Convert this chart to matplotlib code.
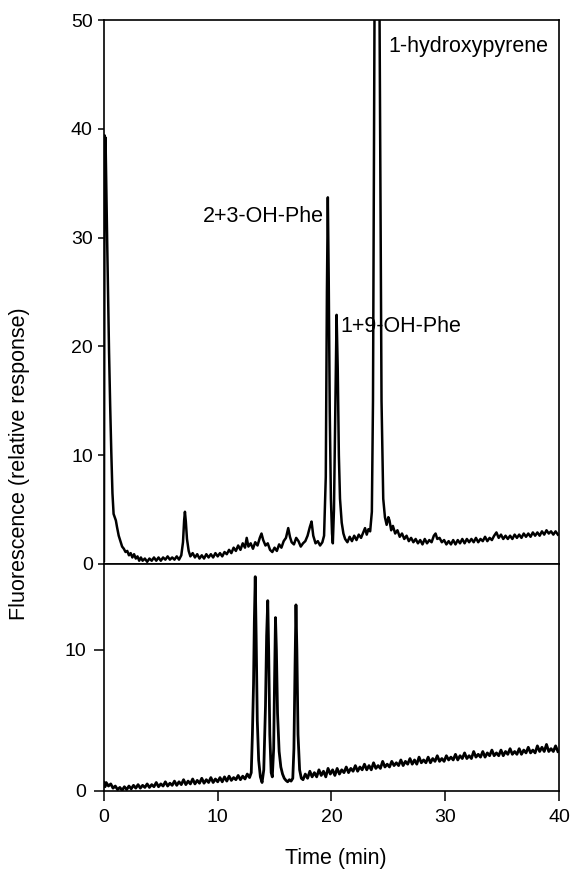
import matplotlib
matplotlib.use("Agg")
import matplotlib.pyplot as plt

plt.rcParams["font.family"] = ["Liberation Sans", "DejaVu Sans"]

# upper chromatogram (urine extract), time in min / relative fluorescence
top_time = [
    0.00, 0.03, 0.06, 0.10, 0.14, 0.20, 0.28, 0.36, 0.45, 0.55, 0.65, 0.75,
    0.85, 0.95, 1.05, 1.15, 1.30, 1.45, 1.60, 1.75, 1.90, 2.05, 2.20, 2.35,
    2.50, 2.65, 2.80, 2.95, 3.10, 3.25, 3.40, 3.60, 3.80, 4.00, 4.20, 4.40,
    4.60, 4.80, 5.00, 5.20, 5.40, 5.60, 5.80, 6.00, 6.20, 6.40, 6.60, 6.80,
    6.95, 7.05, 7.12, 7.20, 7.30, 7.45, 7.60, 7.80, 8.00, 8.20, 8.40, 8.60,
    8.80, 9.00, 9.20, 9.40, 9.60, 9.80, 10.00, 10.20, 10.40, 10.60, 10.80,
    11.00, 11.20, 11.40, 11.60, 11.80, 12.00, 12.20, 12.40, 12.55, 12.70,
    12.90, 13.10, 13.30, 13.50, 13.70, 13.85, 14.00, 14.20, 14.40, 14.60,
    14.80, 15.00, 15.20, 15.40, 15.60, 15.80, 16.00, 16.20, 16.35, 16.50,
    16.70, 16.90, 17.10, 17.30, 17.50, 17.70, 17.90, 18.10, 18.25, 18.40,
    18.60, 18.80, 19.00, 19.20, 19.35, 19.50, 19.60, 19.68, 19.76, 19.85,
    19.95, 20.05, 20.12, 20.22, 20.35, 20.45, 20.55, 20.65, 20.75, 20.90,
    21.05, 21.20, 21.40, 21.60, 21.80, 22.00, 22.20, 22.40, 22.60, 22.80,
    22.95, 23.10, 23.25, 23.40, 23.55, 23.65, 23.75, 23.82, 24.18, 24.30,
    24.40, 24.55, 24.70, 24.85, 25.00, 25.10, 25.25, 25.40, 25.60, 25.80,
    26.00, 26.20, 26.40, 26.60, 26.80, 27.00, 27.20, 27.40, 27.60, 27.80,
    28.00, 28.20, 28.40, 28.60, 28.80, 29.00, 29.15, 29.30, 29.50, 29.70,
    29.90, 30.10, 30.30, 30.50, 30.70, 30.90, 31.10, 31.30, 31.50, 31.70,
    31.90, 32.10, 32.30, 32.50, 32.70, 32.90, 33.10, 33.30, 33.50, 33.70,
    33.90, 34.10, 34.30, 34.50, 34.70, 34.90, 35.10, 35.30, 35.50, 35.70,
    35.90, 36.10, 36.30, 36.50, 36.70, 36.90, 37.10, 37.30, 37.50, 37.70,
    37.90, 38.10, 38.30, 38.50, 38.70, 38.90, 39.10, 39.30, 39.50, 39.70,
    39.90,
]
top_signal = [
    0.3, 22.0, 39.4, 37.5, 39.2, 35.0, 30.0, 25.0, 19.5, 14.5, 10.2, 6.5,
    4.6, 4.3, 4.0, 3.4, 2.6, 2.1, 1.6, 1.4, 1.1, 1.2, 0.8, 1.0,
    0.6, 0.9, 0.5, 0.7, 0.3, 0.6, 0.3, 0.5, 0.2, 0.5, 0.3, 0.6,
    0.3, 0.6, 0.3, 0.6, 0.4, 0.7, 0.4, 0.6, 0.4, 0.7, 0.4, 0.8,
    2.0, 4.0, 4.8, 3.9, 2.3, 1.2, 0.7, 1.0, 0.6, 0.9, 0.5, 0.8,
    0.5, 0.9, 0.6, 0.9, 0.6, 1.0, 0.7, 1.0, 0.7, 1.1, 0.9,
    1.3, 1.0, 1.5, 1.2, 1.7, 1.3, 1.9, 1.5, 2.4, 1.6,
    1.9, 1.4, 2.0, 1.7, 2.4, 2.8, 2.2, 1.7, 1.9, 1.3,
    1.1, 1.5, 1.2, 1.8, 1.5, 2.1, 2.4, 3.3, 2.5, 2.0,
    1.8, 2.4, 2.1, 1.6, 1.9, 2.1, 2.6, 3.4, 3.9, 2.6,
    1.9, 2.1, 1.7, 2.0, 2.6, 8.0, 25.0, 33.7, 26.0, 14.0,
    6.0, 2.8, 1.9, 5.0, 15.0, 22.9, 18.0, 10.0, 6.0, 3.8,
    2.8, 2.3, 2.0, 2.5, 2.1, 2.6, 2.2, 2.7, 2.4, 2.9,
    3.3, 2.7, 3.2, 3.0, 4.8, 15.0, 42.0, 60.0, 60.0, 35.0,
    15.0, 6.0, 4.3, 3.6, 4.3, 4.0, 3.1, 3.5, 2.8, 3.1,
    2.5, 2.8, 2.3, 2.6, 2.1, 2.4, 2.0, 2.3, 1.9, 2.2,
    1.8, 2.3, 1.9, 2.2, 2.0, 2.6, 2.8, 2.3, 2.4, 2.0,
    2.2, 1.8, 2.1, 1.8, 2.2, 1.8, 2.2, 1.9, 2.3, 1.9,
    2.3, 2.0, 2.3, 2.0, 2.4, 2.0, 2.3, 2.1, 2.5, 2.1,
    2.4, 2.2, 2.6, 2.9, 2.4, 2.7, 2.3, 2.6, 2.3, 2.6,
    2.3, 2.7, 2.4, 2.7, 2.4, 2.8, 2.5, 2.8, 2.5, 2.9,
    2.6, 2.9, 2.6, 3.0, 2.7, 3.1, 2.8, 3.0, 2.7, 3.0,
    2.7,
]

# lower chromatogram (standards)
bottom_time = [
    0.00, 0.10, 0.20, 0.40, 0.60, 0.80, 1.00, 1.20, 1.40, 1.60, 1.80, 2.00,
    2.20, 2.40, 2.60, 2.80, 3.00, 3.20, 3.40, 3.60, 3.80, 4.00, 4.20, 4.40,
    4.60, 4.80, 5.00, 5.20, 5.40, 5.60, 5.80, 6.00, 6.20, 6.40, 6.60, 6.80,
    7.00, 7.20, 7.40, 7.60, 7.80, 8.00, 8.20, 8.40, 8.60, 8.80, 9.00, 9.20,
    9.40, 9.60, 9.80, 10.00, 10.20, 10.40, 10.60, 10.80, 11.00, 11.20, 11.40,
    11.60, 11.80, 12.00, 12.20, 12.40, 12.60, 12.80, 12.95, 13.05, 13.15,
    13.22, 13.30, 13.38, 13.48, 13.60, 13.75, 13.90, 14.05, 14.20, 14.30,
    14.40, 14.48, 14.58, 14.70, 14.80, 14.92, 15.00, 15.08, 15.16, 15.26,
    15.40, 15.55, 15.70, 15.85, 16.00, 16.15, 16.30, 16.45, 16.60, 16.70,
    16.80, 16.88, 16.96, 17.06, 17.20, 17.35, 17.50, 17.70, 17.90, 18.10,
    18.30, 18.50, 18.70, 18.90, 19.10, 19.30, 19.50, 19.70, 19.90, 20.10,
    20.30, 20.50, 20.70, 20.90, 21.10, 21.30, 21.50, 21.70, 21.90, 22.10,
    22.30, 22.50, 22.70, 22.90, 23.10, 23.30, 23.50, 23.70, 23.90, 24.10,
    24.30, 24.50, 24.70, 24.90, 25.10, 25.30, 25.50, 25.70, 25.90, 26.10,
    26.30, 26.50, 26.70, 26.90, 27.10, 27.30, 27.50, 27.70, 27.90, 28.10,
    28.30, 28.50, 28.70, 28.90, 29.10, 29.30, 29.50, 29.70, 29.90, 30.10,
    30.30, 30.50, 30.70, 30.90, 31.10, 31.30, 31.50, 31.70, 31.90, 32.10,
    32.30, 32.50, 32.70, 32.90, 33.10, 33.30, 33.50, 33.70, 33.90, 34.10,
    34.30, 34.50, 34.70, 34.90, 35.10, 35.30, 35.50, 35.70, 35.90, 36.10,
    36.30, 36.50, 36.70, 36.90, 37.10, 37.30, 37.50, 37.70, 37.90, 38.10,
    38.30, 38.50, 38.70, 38.90, 39.10, 39.30, 39.50, 39.70, 39.90,
]
bottom_signal = [
    0.6, 0.3, 0.6, 0.35, 0.5, 0.2, 0.35, 0.1, 0.25, 0.05, 0.3, 0.1,
    0.35, 0.15, 0.4, 0.2, 0.45, 0.2, 0.4, 0.25, 0.5, 0.25, 0.45, 0.3,
    0.6, 0.3, 0.5, 0.35, 0.65, 0.35, 0.55, 0.4, 0.7, 0.4, 0.65, 0.45,
    0.8, 0.45, 0.7, 0.5, 0.85, 0.5, 0.75, 0.55, 0.9, 0.55, 0.8, 0.6,
    0.95, 0.6, 0.85, 0.65, 0.95, 0.65, 1.0, 0.7, 1.05, 0.75, 0.95,
    0.8, 1.1, 0.8, 1.05, 0.85, 1.2, 0.95, 1.3, 4.0, 7.6,
    12.0, 15.2, 11.0, 5.0, 2.2, 1.0, 0.6, 1.5, 6.0, 11.0,
    13.5, 10.0, 4.0, 1.3, 1.0, 3.0, 8.0, 12.3, 10.0, 5.5,
    2.8, 1.7, 1.2, 0.9, 0.75, 0.65, 0.8, 0.7, 0.9, 3.0,
    9.0, 13.2, 10.0, 4.0, 1.5, 0.9, 0.8, 1.2, 0.9, 1.4,
    1.0, 1.3, 1.0, 1.5, 1.1, 1.4, 1.0, 1.6, 1.2, 1.5,
    1.1, 1.6, 1.2, 1.5, 1.3, 1.7, 1.3, 1.6, 1.4, 1.8,
    1.4, 1.7, 1.5, 1.9, 1.5, 1.8, 1.5, 2.0, 1.6, 1.8,
    1.6, 2.1, 1.7, 1.9, 1.7, 2.1, 1.8, 2.0, 1.8, 2.2,
    1.8, 2.1, 1.9, 2.3, 1.9, 2.2, 1.9, 2.4, 2.0, 2.2,
    2.0, 2.4, 2.0, 2.3, 2.1, 2.5, 2.1, 2.3, 2.1, 2.5,
    2.2, 2.4, 2.2, 2.6, 2.2, 2.5, 2.3, 2.7, 2.3, 2.5,
    2.3, 2.8, 2.4, 2.6, 2.4, 2.8, 2.4, 2.7, 2.5, 2.9,
    2.5, 2.7, 2.5, 2.9, 2.5, 2.8, 2.6, 3.0, 2.6, 2.8,
    2.6, 3.0, 2.6, 2.9, 2.7, 3.1, 2.7, 2.9, 2.7, 3.2,
    2.8, 3.1, 2.8, 3.3, 2.8, 3.0, 2.8, 3.2, 2.8,
]

peak_labels = ["1-hydroxypyrene", "2+3-OH-Phe", "1+9-OH-Phe"]
label_pos = [(25.0, 47.6, "left"), (19.3, 31.9, "right"), (20.75, 21.8, "left")]

fig = plt.figure(figsize=(5.71, 8.74), dpi=100)
ax_top = fig.add_axes([0.182, 0.3547, 0.797, 0.6224])
ax_bot = fig.add_axes([0.182, 0.095, 0.797, 0.2597])

ax_top.plot(top_time, top_signal, color="black", lw=1.8)
ax_bot.plot(bottom_time, bottom_signal, color="black", lw=2.0)

for ax in (ax_top, ax_bot):
    ax.set_xlim(0, 40)
    for sp in ax.spines.values():
        sp.set_linewidth(1.2)

ax_top.set_ylim(0, 50)
ax_top.set_yticks([0, 10, 20, 30, 40, 50])
ax_top.set_xticks([])
ax_top.tick_params(axis="y", direction="out", length=4, width=1.1,
                   labelsize=14, pad=4)

ax_bot.set_ylim(0, 16.1)
ax_bot.set_yticks([0, 10])
ax_bot.set_xticks([0, 10, 20, 30, 40])
ax_bot.tick_params(direction="out", length=7, width=1.1, labelsize=14, pad=6)

for text, (x, y, ha) in zip(peak_labels, label_pos):
    ax_top.text(x, y, text, ha=ha, va="center", fontsize=15.5)

fig.text(0.035, 0.47, "Fluorescence (relative response)", rotation=90,
         ha="center", va="center", fontsize=15.5)
fig.text(0.588, 0.018, "Time (min)", ha="center", va="center", fontsize=15.5)

fig.savefig("out.png", dpi=100)
